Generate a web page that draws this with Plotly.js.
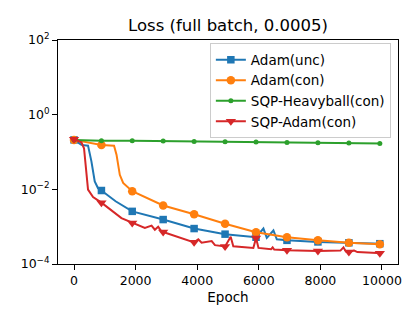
<!DOCTYPE html>
<html>
<head>
<meta charset="utf-8">
<script src="https://cdn.plot.ly/plotly-3.0.1.min.js"></script>
<style>body{margin:0}#plot{width:420px;height:320px}</style>
</head>
<body>
<div id="plot"></div>
<script>
// epochs where markers are drawn (roughly every 1000)
var markEpochs = [0, 890, 1890, 2895, 3900, 4905, 5910, 6915, 7920, 8925, 9930];

var uncEpochs = [0, 240, 455, 565, 673, 780, 890, 1350, 1890, 2895, 3900, 4905, 5910, 6150, 6260, 6475, 6585, 6915, 7920, 8925, 9930, 10000];
var uncLoss = [0.211, 0.155, 0.148, 0.056, 0.0162, 0.0107, 0.0093, 0.0048, 0.00257, 0.00155, 0.00089, 0.00063, 0.00052, 0.00089, 0.00050, 0.00079, 0.00046, 0.00043, 0.00039, 0.00037, 0.00035, 0.00035];

var conEpochs = [0, 890, 1300, 1380, 1487, 1595, 1890, 2895, 3900, 4905, 5910, 6915, 7920, 8925, 9930, 10000];
var conLoss = [0.211, 0.155, 0.148, 0.085, 0.0245, 0.0148, 0.0089, 0.0037, 0.00214, 0.0012, 0.00071, 0.00052, 0.00043, 0.00037, 0.00034, 0.00034];

var hbEpochs = [0, 890, 1890, 2895, 3900, 4905, 5910, 6915, 7920, 8925, 9930, 10000];
var hbLoss = [0.21, 0.20, 0.199, 0.196, 0.192, 0.188, 0.184, 0.18, 0.177, 0.174, 0.168, 0.168];

var sqpEpochs = [0, 240, 325, 403, 455, 618, 890, 1540, 1890, 2137, 2300, 2518, 2625, 2733, 2843, 2895, 3900, 4035, 4143, 4470, 4577, 4905, 5087, 5172, 5823, 5910, 5990, 6400, 6450, 6500, 6915, 7920, 8650, 8750, 8830, 8925, 9100, 9200, 9930, 10000];
var sqpLoss = [0.219, 0.182, 0.126, 0.030, 0.0098, 0.0062, 0.0044, 0.0017, 0.00126, 0.00107, 0.00093, 0.00107, 0.00083, 0.0010, 0.00074, 0.00072, 0.00038, 0.00046, 0.00037, 0.00041, 0.00032, 0.000295, 0.00054, 0.0003, 0.00027, 0.0005, 0.00027, 0.00025, 0.00028, 0.000245, 0.000234, 0.000224, 0.000229, 0.00028, 0.000214, 0.000209, 0.000229, 0.000209, 0.000195, 0.000195];

var yTicks = [1e-4, 1e-2, 1, 1e2];
var yTickText = ['10<sup>\u22124</sup>', '10<sup>\u22122</sup>', '10<sup>0</sup>', '10<sup>2</sup>'];

var series = [
  {name: 'Adam(unc)', x: uncEpochs, y: uncLoss, color: '#1f77b4', symbol: 'square', size: 7.5},
  {name: 'Adam(con)', x: conEpochs, y: conLoss, color: '#ff7f0e', symbol: 'circle', size: 8.5},
  {name: 'SQP-Heavyball(con)', x: hbEpochs, y: hbLoss, color: '#2ca02c', symbol: 'circle', size: 5},
  {name: 'SQP-Adam(con)', x: sqpEpochs, y: sqpLoss, color: '#d62728', symbol: 'triangle-down', size: 9}
];

function marks(xs, ys) {
  var mx = [], my = [];
  xs.forEach(function (x, i) {
    if (markEpochs.indexOf(x) >= 0) { mx.push(x); my.push(ys[i]); }
  });
  return {x: mx, y: my};
}

var data = [];
series.forEach(function (s) {
  var m = marks(s.x, s.y);
  data.push({x: s.x, y: s.y, mode: 'lines', showlegend: false,
    line: {color: s.color, width: 2}, hoverinfo: 'skip'});
  data.push({x: m.x, y: m.y, mode: 'markers', showlegend: false,
    marker: {color: s.color, symbol: s.symbol, size: s.size, line: {width: 0}}});
  // legend-only entry with line and marker
  data.push({x: [null], y: [null], mode: 'lines+markers', name: s.name,
    line: {color: s.color, width: 2},
    marker: {color: s.color, symbol: s.symbol, size: s.size, line: {width: 0}}});
});

var axisStyle = {
  showline: true, mirror: true, linecolor: 'black', linewidth: 1,
  ticks: 'outside', ticklen: 5, tickwidth: 1, tickcolor: 'black',
  showgrid: false, zeroline: false,
  tickfont: {size: 12.5, color: 'black'}
};

var layout = {
  width: 420, height: 320,
  margin: {l: 58, r: 22, t: 40, b: 56},
  paper_bgcolor: 'white', plot_bgcolor: 'white',
  font: {family: 'DejaVu Sans', color: 'black'},
  title: {text: 'Loss (full batch, 0.0005)', font: {size: 16.5, color: 'black'},
    x: 0.5, xref: 'paper', y: 0.92, yref: 'container', yanchor: 'middle'},
  xaxis: Object.assign({}, axisStyle, {
    range: [-520, 10520], tick0: 0, dtick: 2000, tickformat: 'd',
    title: {text: 'Epoch', font: {size: 13.5, color: 'black'}, standoff: 5}
  }),
  yaxis: Object.assign({}, axisStyle, {
    type: 'log', range: [-4, 2], tickvals: yTicks, ticktext: yTickText
  }),
  legend: {
    x: 0.979, y: 0.985, xanchor: 'right', yanchor: 'top',
    itemwidth: 30,
    bgcolor: 'rgba(255,255,255,0.8)', bordercolor: '#cccccc', borderwidth: 1,
    font: {size: 13.5, color: 'black'}
  },
  showlegend: true
};

Plotly.newPlot('plot', data, layout, {displayModeBar: false, staticPlot: true});
</script>
</body>
</html>
